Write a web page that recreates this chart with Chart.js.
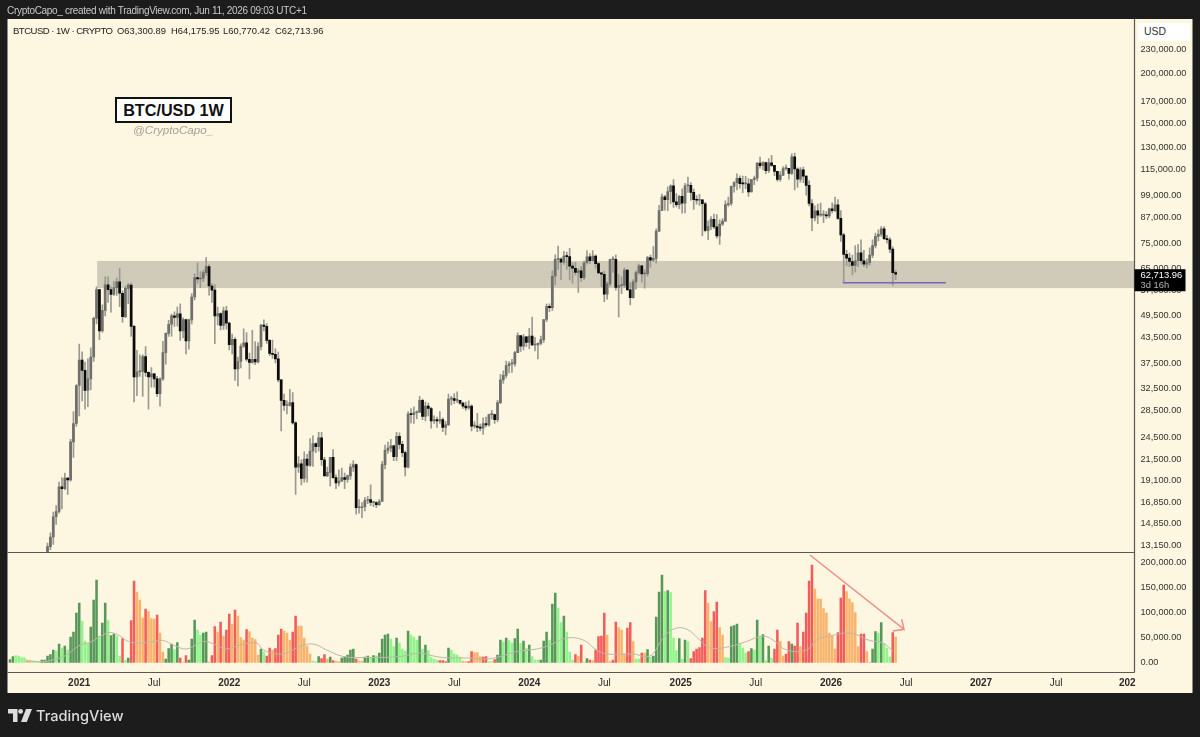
<!DOCTYPE html>
<html><head><meta charset="utf-8">
<script src="https://cdn.jsdelivr.net/npm/chart.js@4"></script>
<style>
html,body{margin:0;padding:0;background:#1c1c1c;width:1200px;height:737px;overflow:hidden}
#wrap{position:relative;width:1200px;height:737px}
canvas{position:absolute;left:0;top:0}
.t{position:absolute;white-space:nowrap;font-family:"Liberation Sans",sans-serif}
</style></head><body>
<div id="wrap">
<canvas id="c" width="1200" height="737"></canvas>
<div class="t" style="left:7px;top:4px;font-size:10px;letter-spacing:-0.3px;line-height:14px;color:#c9c9c9">CryptoCapo_ created with TradingView.com, Jun 11, 2026 09:03 UTC+1</div>
<div class="t" style="left:13px;top:24px;font-size:9.6px;letter-spacing:-0.55px;line-height:14px;color:#222">BTCUSD · 1W · CRYPTO</div>
<div class="t" style="left:117px;top:24px;font-size:9.4px;line-height:14px;color:#222">O63,300.89</div>
<div class="t" style="left:171px;top:24px;font-size:9.4px;line-height:14px;color:#222">H64,175.95</div>
<div class="t" style="left:223px;top:24px;font-size:9.4px;line-height:14px;color:#222">L60,770.42</div>
<div class="t" style="left:275px;top:24px;font-size:9.4px;line-height:14px;color:#222">C62,713.96</div>
<div class="t" style="left:115px;top:97px;width:113px;height:22px;border:2px solid #111;background:#fff;color:#111;font-weight:700;font-size:16.2px;line-height:22px;text-align:center">BTC/USD 1W</div>
<div class="t" style="left:133px;top:123px;font-size:11.6px;line-height:14px;font-style:italic;color:#a5a298">@CryptoCapo_</div>
<div class="t" style="left:1138px;top:23px;width:46px;height:18px;padding-left:6px;background:#fff;color:#333;font-size:10.4px;line-height:18px">USD</div>
<svg style="position:absolute;left:8px;top:709px" width="24" height="14" viewBox="0 0 24 14"><path fill="#dcdcdc" d="M0 0h9.5v13H5V4.5H0z"/><circle cx="12.6" cy="2.4" r="2.4" fill="#dcdcdc"/><path fill="#dcdcdc" d="M18 0h6l-5.2 13H13z"/></svg>
<div class="t" style="left:36px;top:706px;font-family:Inter,sans-serif;font-weight:500;font-size:14.6px;line-height:20px;color:#dcdcdc">TradingView</div>
</div>
<script>
const skip = [null,null,null,null,null,null,null,null,null,null,null,null,null];
const weekOpen = skip.concat([
11500,13030,13770,15480,15950,18400,18200,19350,19150,23850,
26500,33000,38200,36000,32100,34300,38900,48600,57400,45200,
50900,59000,57400,55800,58000,60000,56200,49100,57800,58900,
46400,34700,35700,35800,39000,35600,34700,35300,34300,31500,
34300,39900,44600,47000,49300,48900,49900,45200,48300,42700,
48200,55000,61500,61000,61300,63300,65500,58600,57200,49300,
50000,46700,50800,47300,41800,43100,36300,37900,41400,42200,
38400,37700,38400,37800,41300,46800,46400,42800,39700,39500,
38500,34100,30300,29400,29400,29900,26600,20600,21000,19300,
21600,20800,22600,23600,23200,24400,21500,19600,20000,21800,
19400,18800,19000,19400,19200,19600,20600,20900,16300,16300,
16400,17000,17100,16800,16800,16600,16900,20900,22700,23000,
23300,21900,24600,23500,22400,20600,28000,27900,28200,28300,
30300,27600,29300,28900,26900,27100,26900,27100,25900,26300,
30500,30600,30300,30300,29800,29300,29000,29300,26100,26100,
25900,25800,26500,26300,27900,27900,27100,29900,34100,35000,
37000,37400,37400,39900,44000,41400,43700,42300,43900,41700,
41700,42100,43000,48300,52100,51700,62000,68300,68400,67200,
69600,69400,65700,64900,63400,64000,61500,67000,69300,67800,
69600,66700,63200,62700,55900,59300,68200,68300,58100,58700,
58900,64200,57300,54800,60000,63300,65800,62800,62900,69000,
68000,68700,80400,90600,98000,96400,101000,104400,95200,93700,
98300,94500,104500,104700,100600,96400,96100,96300,94200,80700,
82600,86100,82400,78200,83700,85200,93700,94300,104100,106400,
109000,105700,105600,105600,100900,108300,109200,119100,117300,119400,
114000,119300,117500,113500,108400,111100,115300,115600,112200,123500,
115100,108600,114500,110500,104700,94300,86800,90400,88200,88200,
88200,87800,91500,90500,93600,86600,78700,70300,68800,67500,
66000,67800,71000,67800,66500,67000,70000,74000,78000,79000,
81500,77000,76500,72500,63300.89]);
const weekHigh = skip.concat([
13300,14100,15900,16500,18900,19400,19900,19400,24200,28400,
33200,41900,40100,37800,38500,41000,49000,58300,57500,52600,
61800,61800,58400,60200,61300,64900,57000,58500,59500,59600,
46700,40400,39400,39400,41300,35700,36600,35400,34800,34500,
42600,44700,48100,49800,50500,51900,52900,48800,48400,48400,
56100,62900,67000,63700,64200,69000,66300,59400,59100,51900,
50200,51900,52100,47600,44400,43500,38900,42000,45800,44800,
39800,45400,42500,42300,47000,48200,47200,43000,42900,40800,
40000,34200,31400,30200,32300,31700,26800,21900,21500,22500,
22200,24300,24700,23700,25200,25200,21800,20600,21800,22800,
19700,20300,20500,19900,19700,21000,21400,21000,17100,16800,
17300,17400,18600,16900,16900,17100,21300,23400,23800,24200,
23400,25200,25100,23900,22600,28400,28900,29200,28500,31000,
30500,30000,29800,29100,27700,27500,28400,27400,26800,31400,
31000,31500,31800,30300,30000,30000,30200,29500,26800,28100,
26400,27400,27500,28000,28600,28000,30300,35200,35900,38000,
37900,38400,40200,44700,44000,44300,43800,45900,49000,43600,
42200,43900,48300,52800,52900,64000,70100,73800,68900,71600,
71300,72800,66900,67200,64700,65500,67700,71900,70600,71900,
70100,67000,63300,63800,60000,68400,69400,70000,62700,61800,
65000,64500,59800,60700,64000,66500,66000,64400,69500,70000,
73600,81500,93300,99600,98900,103900,105000,108300,99900,98900,
102700,106000,109900,106400,102500,98800,99500,96500,95000,85300,
87500,88700,88500,85900,86500,95800,97900,104300,107000,112000,
110700,110500,110300,108900,108500,110500,119400,123200,120200,119800,
122300,124500,117600,113500,113400,116700,117900,115500,125600,126200,
115900,116000,116300,110600,107500,96500,93000,94000,94600,90500,
90000,91800,94700,97900,96500,90500,79400,72000,70900,70000,
74000,74500,76500,72000,68500,73000,76500,79500,81000,82500,
82500,78500,77500,73500,64175.95]);
const weekLow = skip.concat([
11400,12800,13200,14800,15800,16200,18100,17600,19000,21800,
26100,27700,30200,28800,29200,32200,37900,47100,43000,44900,
49300,53300,50400,55500,55500,52000,47500,48800,52900,43800,
30000,31100,34800,31000,34800,28800,32700,32700,31000,29300,
34000,37300,43800,43900,46400,46500,42800,43400,39600,40700,
47100,54100,59600,58000,60100,62300,55600,53300,42000,46800,
45500,45600,45700,40500,39600,34000,32900,36500,41100,38000,
34300,37500,37200,37600,40500,45200,42100,39200,38600,37600,
33700,25400,28600,28000,29300,26400,17600,20000,18600,18900,
18900,20700,20700,22400,22600,20800,19600,19500,18500,19300,
18200,18500,19000,18200,18900,19200,20100,15700,15800,15400,
16000,16700,16500,16400,16300,16500,16900,20400,22300,22500,
21400,21400,22900,21900,19600,20500,26600,26500,27200,28200,
27100,26900,27700,25800,26500,25900,26500,25300,24800,26200,
29500,29700,29900,29600,28900,28600,28800,25400,25800,25300,
25400,24900,26000,26100,27200,26500,26800,29700,33400,34500,
35500,35600,36900,39900,40200,40500,41300,40800,41500,40300,
38500,41700,42300,47700,50500,50900,59000,64500,60800,66400,
64500,60700,59600,62400,56500,60200,60800,66500,66700,67600,
64900,63000,58400,53500,54300,58500,63400,57200,49000,56100,
58100,57200,52500,54600,57500,62700,59900,57900,62000,65300,
67500,66800,80200,90500,90800,90500,94200,92200,92500,91500,
89200,89300,100600,96200,91200,94000,93300,78200,80000,76600,
81100,81600,77200,74500,83100,85000,92800,93300,100700,102000,
103100,100400,102700,98200,100800,105200,107500,115700,114700,112000,
112700,116800,110700,107300,107300,110800,114400,108600,111500,102000,
103500,106700,106300,98900,93000,80600,85300,83900,87500,84500,
86500,86900,89300,90000,86000,75800,59700,65800,65500,62500,
63500,65500,66500,65500,65000,66000,69000,73000,76000,78000,
76500,75000,71000,58800,60770.42]);
const weekClose = skip.concat([
13030,13770,15480,15950,18400,18200,19350,19150,23850,26500,
33000,38200,36000,32100,34300,38900,48600,57400,45200,50900,
59000,57400,55800,58000,60000,56200,49100,57800,58900,46400,
34700,35700,35800,39000,35600,34700,35300,34300,31500,34300,
39900,44600,47000,49300,48900,49900,45200,48300,42700,48200,
55000,61500,61000,61300,63300,65500,58600,57200,49300,50000,
46700,50800,47300,41800,43100,36300,37900,41400,42200,38400,
37700,38400,37800,41300,46800,46400,42800,39700,39500,38500,
34100,30300,29400,29400,29900,26600,20600,21000,19300,21600,
20800,22600,23600,23200,24400,21500,19600,20000,21800,19400,
18800,19000,19400,19200,19600,20600,20900,16300,16300,16400,
17000,17100,16800,16800,16600,16900,20900,22700,23000,23300,
21900,24600,23500,22400,20600,28000,27900,28200,28300,30300,
27600,29300,28900,26900,27100,26900,27100,25900,26300,30500,
30600,30300,30300,29800,29300,29000,29300,26100,26100,25900,
25800,26500,26300,27900,27900,27100,29900,34100,35000,37000,
37400,37400,39900,44000,41400,43700,42300,43900,41700,41700,
42100,43000,48300,52100,51700,62000,68300,68400,67200,69600,
69400,65700,64900,63400,64000,61500,67000,69300,67800,69600,
66700,63200,62700,55900,59300,68200,68300,58100,58700,58900,
64200,57300,54800,60000,63300,65800,62800,62900,69000,68000,
68700,80400,90600,98000,96400,101000,104400,95200,93700,98300,
94500,104500,104700,100600,96400,96100,96300,94200,80700,82600,
86100,82400,78200,83700,85200,93700,94300,104100,106400,109000,
105700,105600,105600,100900,108300,109200,119100,117300,119400,114000,
119300,117500,113500,108400,111100,115300,115600,112200,123500,115100,
108600,114500,110500,104700,94300,86800,90400,88200,88200,88200,
87800,91500,90500,93600,86600,78700,70300,68800,67500,66000,
67800,71000,67800,66500,67000,70000,74000,78000,79000,81500,
77000,76500,72500,63300.89,62713.96]);
const volumeK = [
6,12,14,13,10,9,5,4,3,2,
2,5,5,13,16,25,23,37,29,33,
25,51,61,99,119,83,43,39,71,125,
165,53,79,119,84,54,57,53,13,48,
5,9,84,163,141,125,89,107,102,88,
87,95,59,21,7,28,37,26,40,9,
1,14,5,47,85,65,55,59,61,1,
14,72,61,81,53,65,97,77,105,93,
50,45,66,62,49,46,15,27,21,13,
29,25,28,55,67,63,59,45,61,93,
73,73,49,33,17,3,2,12,8,16,
7,11,4,3,2,9,11,15,25,27,
7,3,3,11,13,11,14,13,19,47,
55,57,47,32,49,39,27,23,63,55,
51,45,53,27,35,24,10,7,5,4,
4,2,29,25,17,15,11,3,2,2,
22,20,20,12,11,12,2,2,6,15,
45,41,49,44,39,48,67,38,43,28,
35,12,5,5,5,43,61,45,117,139,
109,80,93,61,21,5,16,13,35,1,
8,5,4,25,52,53,99,55,2,5,
81,70,65,17,69,80,42,7,7,19,
19,26,11,13,91,141,175,142,144,140,
49,24,48,7,45,42,8,22,27,30,
49,144,119,82,102,121,70,55,10,9,
72,74,77,39,29,19,22,28,25,85,
52,56,4,33,9,27,65,42,13,17,
42,37,33,79,32,61,99,163,195,147,
127,127,108,99,59,53,27,60,129,155,
142,127,120,100,32,57,57,22,1,27,
62,59,80,37,29,11,60,51];
const volKind = [
"GGggggoogg","gGGGGGgGgG","gGGGGgggGG","GgGGgGGggR","gGRRoooRoo",
"oRooGGGgGR","oRGGGggGGo","RRoRoRRoRo","ooRooooGgR","RoRRRoooRR",
"oooooggGRR","oGRooGGGGG","RooGGgGgGG","GGggGgggGg","ggGgGggggR",
"RRGggggooR","RoooRRggRG","GgGggGGgGg","GgggGGGgGG","ggGgggRoRg",
"GRoRRRRooR","RoooRRoggR","oGgGGGGgGg","ggGgGgRRRR","RRooRRoogg",
"GGGgggRGgG","gGgGgRRooR","RGRRoRRRRo","oooooooRRR","oooooRRooG",
"GgGgggRo"].join("");
const maWeek = [5.8,11.6,16,19.6,24.3,27.7,31.2,34.7,38.1,41,45,49.7,53.2,56.6,61.2,65.9,68.2,72.8,75.1,79.7,85.5,87.8,92.4,95.9,100.5,105.1,109.8,115.5,123.6,135.2,142,146.8,150.2,158.3,165.2,169.9,175.6,182.6,187.2,193,198.7,203.3,206.8,216,221.8,226.4,229.9,234.5,239.1,242.6,249.5,255.3,261,264.5,269.2,276.1,279.6,284.2,291.1,298,302.7,306.1];
const maVolK = [3,2,7,15,35,40,52,60,53,42,39,42,44,35,27,40,42,31,27,35,39,25,17,19,32,37,25,12,10,12,19,13,10,9,7,12,22,27,35,49,45,25,17,17,13,49,67,67,45,29,32,42,53,45,25,25,45,53,59,44,39,22];
const priceTicks = [230000,200000,170000,150000,130000,115000,99000,87000,75000,65000,57000,49500,43500,37500,32500,28500,24500,21500,19100,16850,14850,13150];
const volTicks = [200000,150000,100000,50000,0];
const timeWeeks = [24,50,76,102,128,154,180,206,232.5,258.5,284.6,310.6,336.6,362.6,387.3];
const timeLabels = ["2021","Jul","2022","Jul","2023","Jul","2024","Jul","2025","Jul","2026","Jul","2027","Jul","202"];
const zoneHigh = 67700, zoneLow = 57900, zoneStartWeek = 30.2;
const supportWeeks = [288.7,324.4], supportPrice = [59700,59700];
const arrowWeeks = [277.3,309.9,309.1,309.9,306], arrowVols = [215000,66400,86400,66400,63000];
const tagTimer = "3d 16h";

const kindColor = {G:"#57985a",g:"#8ff58b",R:"#f25c5a",o:"#f8b46c"};
const PANEL = "#fdf6e0", SEP = "#5a5850";
const fmt2 = v => Number(v).toLocaleString("en-US",{minimumFractionDigits:2,maximumFractionDigits:2});
const wickPts = [], bodyPts = [], bodyCols = [];
weekClose.forEach((c,i)=>{
  if(c===null) return;
  wickPts.push({x:i,y:[weekLow[i],weekHigh[i]]});
  bodyPts.push({x:i,y:[weekOpen[i],c]});
  bodyCols.push(c>=weekOpen[i] ? "#6f6f6c" : "#0b0b0b");
});
const volPts = volumeK.map((v,i)=>({x:i,y:v*1000}));
const volCols = volumeK.map((v,i)=>kindColor[volKind[i]]);

const panelPlugin = {
  id:"panel",
  beforeDraw(chart){
    const {ctx,chartArea:a,scales:s}=chart;
    ctx.save();
    ctx.fillStyle=PANEL;
    ctx.fillRect(a.left,a.top,s.y.right-a.left,s.x.bottom-a.top);
    ctx.restore();
  },
  beforeDatasetsDraw(chart){
    const {ctx,chartArea:a,scales:s}=chart;
    const x0=s.x.getPixelForValue(zoneStartWeek), y0=s.y.getPixelForValue(zoneHigh), y1=s.y.getPixelForValue(zoneLow);
    ctx.save();
    ctx.fillStyle="#d0cab8";
    ctx.fillRect(x0,y0,a.right-x0,y1-y0);
    ctx.restore();
  },
  afterDraw(chart){
    const {ctx,chartArea:a,scales:s}=chart;
    ctx.save();
    ctx.strokeStyle=SEP; ctx.lineWidth=1.2;
    const split=s.y.bottom;
    ctx.beginPath();
    ctx.moveTo(a.left,split); ctx.lineTo(a.right,split);
    ctx.moveTo(a.left,a.bottom); ctx.lineTo(a.right,a.bottom);
    ctx.moveTo(a.right,a.top); ctx.lineTo(a.right,a.bottom);
    ctx.stroke();
    const last=weekClose[weekClose.length-1], y=s.y.getPixelForValue(last);
    ctx.fillStyle="#000";
    ctx.fillRect(a.right,y-5,51,22);
    ctx.textBaseline="middle"; ctx.textAlign="left";
    ctx.font='9.4px "Liberation Sans"';
    ctx.fillStyle="#fff"; ctx.fillText(fmt2(last),a.right+6,y+1);
    ctx.fillStyle="#b5b5b5"; ctx.fillText(tagTimer,a.right+6,y+11.5);
    ctx.restore();
  }
};

new Chart(document.getElementById("c"),{
  data:{datasets:[
    {type:"line",label:"support",data:supportWeeks.map((w,k)=>({x:w,y:supportPrice[k]})),borderColor:"#7563bf",borderWidth:1.4,pointRadius:0,xAxisID:"x",yAxisID:"y",clip:0,order:0},
    {type:"bar",label:"body",data:bodyPts,backgroundColor:bodyCols,barThickness:2.1,minBarLength:1,grouped:false,xAxisID:"x",yAxisID:"y",clip:0,order:1},
    {type:"bar",label:"wick",data:wickPts,backgroundColor:"#9a9992",barThickness:1,grouped:false,xAxisID:"x",yAxisID:"y",clip:0,order:2},
    {type:"line",label:"arrow",data:arrowWeeks.map((w,k)=>({x:w,y:arrowVols[k]})),borderColor:"#ee8c86",borderWidth:1.5,pointRadius:0,xAxisID:"x",yAxisID:"yv",order:3},
    {type:"line",label:"volume MA",data:maWeek.map((w,k)=>({x:w,y:maVolK[k]*1000})),borderColor:"#bcb8ac",borderWidth:1,pointRadius:0,tension:0.4,xAxisID:"x",yAxisID:"yv",order:4},
    {type:"bar",label:"volume",data:volPts,backgroundColor:volCols,barThickness:1.9,grouped:false,xAxisID:"x",yAxisID:"yv",order:5}
  ]},
  options:{
    responsive:false,animation:false,devicePixelRatio:1,
    layout:{padding:{top:19,left:7.5,right:7.5,bottom:44}},
    plugins:{legend:{display:false},tooltip:{enabled:false},title:{display:false}},
    scales:{
      x:{type:"linear",position:"bottom",min:-0.87,max:389.8,offset:false,grid:{display:false,drawTicks:false},border:{display:false},
        afterFit(s){s.height=20.5},
        afterBuildTicks(s){s.ticks=timeWeeks.map(v=>({value:v}))},
        ticks:{autoSkip:false,maxRotation:0,padding:5,color:"#2a2a2a",
          font:c=>({family:'"Liberation Sans"',size:10,weight:/^20/.test(timeLabels[c.index]||"")?"bold":"normal"}),
          callback:(v,i)=>timeLabels[i]}},
      y:{type:"logarithmic",position:"right",stack:"panes",stackWeight:533.5,weight:0,min:12592,max:273470,offset:false,grid:{display:false,drawTicks:false},border:{display:false},
        afterFit(s){s.width=58},
        afterBuildTicks(s){s.ticks=priceTicks.map(v=>({value:v}))},
        ticks:{autoSkip:false,padding:6,color:"#333330",font:{family:'"Liberation Sans"',size:9.2},callback:v=>fmt2(v)}},
      yv:{type:"linear",position:"right",stack:"panes",stackWeight:120,weight:1,min:-20000,max:220000,offset:false,grid:{display:false,drawTicks:false},border:{display:false},
        afterFit(s){s.width=58},
        afterBuildTicks(s){s.ticks=volTicks.map(v=>({value:v}))},
        ticks:{autoSkip:false,padding:6,color:"#333330",font:{family:'"Liberation Sans"',size:9.2},callback:v=>fmt2(v)}}
    }
  },
  plugins:[panelPlugin]
});
</script>
</body></html>
